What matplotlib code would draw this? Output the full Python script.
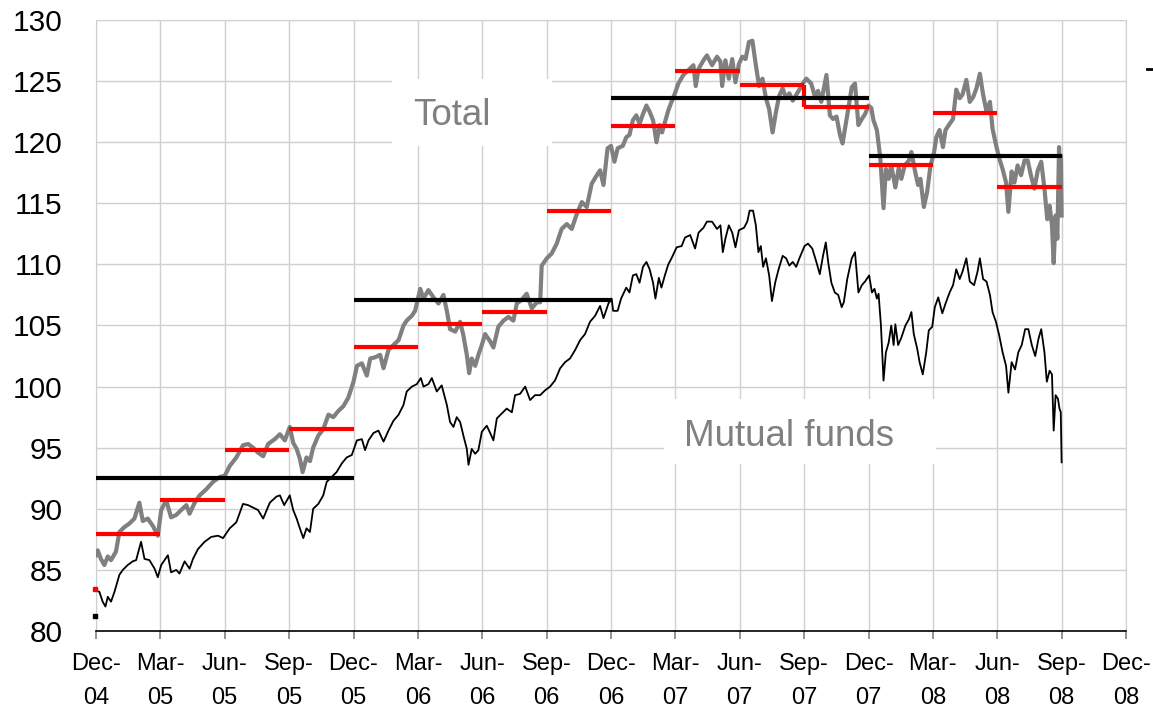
import matplotlib
matplotlib.use("Agg")
import matplotlib.pyplot as plt
from matplotlib.lines import Line2D
from matplotlib.patches import Rectangle

plt.rcParams['font.family'] = ['Liberation Sans', 'DejaVu Sans']

# x positions are months since Dec-04 (0 = Dec-04, 48 = Dec-08)
total_m = [
    0.0, 0.08, 0.23, 0.39, 0.55, 0.70, 0.93, 1.09, 1.32, 1.56, 1.79, 2.02, 2.18, 2.41, 2.65, 2.88,
    3.04, 3.27, 3.50, 3.74, 3.97, 4.21, 4.36, 4.60, 4.83, 5.14, 5.45, 5.76, 6.00, 6.23, 6.54, 6.85,
    7.09, 7.32, 7.55, 7.79, 8.02, 8.33, 8.57, 8.80, 9.03, 9.19, 9.35, 9.50, 9.63, 9.81, 9.97, 10.12,
    10.36, 10.59, 10.83, 11.06, 11.29, 11.53, 11.76,
    12.0, 12.16, 12.39, 12.62, 12.78, 13.01, 13.24, 13.40, 13.63, 13.86, 14.10, 14.33, 14.48, 14.72,
    14.87, 15.11, 15.26, 15.49, 15.73, 15.96, 16.19, 16.35, 16.50, 16.74, 16.97, 17.12, 17.28, 17.39,
    17.51, 17.67, 17.82, 17.98, 18.13, 18.37, 18.52, 18.75, 18.99, 19.22, 19.45, 19.61, 19.84, 20.07,
    20.31, 20.54, 20.70, 20.77, 21.01, 21.24, 21.47, 21.70, 21.94, 22.17, 22.40, 22.64, 22.87, 23.10,
    23.34, 23.49, 23.65,
    23.84, 24.0, 24.16, 24.31, 24.55, 24.71, 24.86, 25.02, 25.18, 25.33, 25.49, 25.65, 25.80, 25.96,
    26.12, 26.27, 26.38, 26.51, 26.67, 26.82, 26.98, 27.14, 27.37, 27.61, 27.84, 27.95, 28.08, 28.31,
    28.47, 28.71, 28.94, 29.10, 29.18, 29.33, 29.49, 29.65, 29.80, 29.96, 30.12, 30.27, 30.43, 30.59,
    30.75, 30.90, 31.06, 31.22, 31.37, 31.53, 31.69, 31.84, 32.0, 32.16, 32.31, 32.47, 32.71, 32.94,
    33.10, 33.33, 33.49, 33.65, 33.80, 34.04, 34.20, 34.35, 34.51, 34.67, 34.79, 34.98, 35.22, 35.37,
    35.53, 35.69,
    35.84, 36.0, 36.13, 36.23, 36.39, 36.55, 36.70, 36.81, 36.94, 37.06, 37.25, 37.41, 37.53, 37.69,
    37.88, 38.0, 38.16, 38.31, 38.42, 38.58, 38.73, 38.89, 39.05, 39.16, 39.31, 39.47, 39.59, 39.78,
    39.94, 40.09, 40.25, 40.38, 40.56, 40.72, 40.88, 41.03, 41.19, 41.34, 41.5, 41.66, 41.78, 41.94,
    42.09, 42.25, 42.41, 42.52, 42.67, 42.80, 42.95, 43.11, 43.27, 43.42, 43.58, 43.73, 43.89, 44.05,
    44.20, 44.33, 44.44, 44.55, 44.63, 44.72, 44.80, 44.88, 44.93, 44.97, 45.0,
]
total_v = [
    86.2, 86.6, 85.9, 85.4, 86.1, 85.8, 86.5, 88.1, 88.5, 88.8, 89.2, 90.5, 89.0, 89.2, 88.6, 87.8,
    89.9, 90.7, 89.3, 89.5, 89.9, 90.3, 89.6, 90.5, 91.1, 91.6, 92.2, 92.6, 92.7, 93.5, 94.2, 95.2,
    95.3, 95.0, 94.6, 94.3, 95.3, 95.7, 96.1, 95.6, 96.7, 95.4, 94.9, 94.1, 93.0, 94.2, 93.9, 95.0,
    96.0, 96.5, 97.7, 97.5, 98.0, 98.4, 99.1,
    100.4, 101.7, 101.9, 100.9, 102.3, 102.4, 102.6, 101.5, 103.0, 103.4, 103.8, 105.0, 105.4, 105.8,
    106.2, 108.0, 107.2, 107.9, 107.3, 106.8, 107.5, 106.2, 104.7, 104.5, 105.3, 104.2, 102.6, 101.1,
    102.3, 101.7, 102.6, 103.4, 104.3, 103.7, 103.2, 104.9, 105.4, 105.7, 105.4, 106.8, 107.1, 107.6,
    106.4, 106.9, 106.9, 109.9, 110.5, 110.9, 111.7, 112.9, 113.3, 112.9, 114.1, 115.1, 114.7, 116.6,
    117.3, 117.7, 116.5,
    119.5, 119.7, 118.4, 119.5, 119.7, 120.4, 120.6, 121.8, 122.2, 121.5, 122.3, 123.0, 122.5, 121.8,
    120.0, 121.4, 120.8, 121.6, 122.6, 123.3, 124.0, 124.8, 125.5, 125.9, 126.3, 124.6, 126.0, 126.7,
    127.1, 126.3, 127.0, 126.6, 124.6, 126.7, 125.2, 126.8, 124.9, 126.4, 127.0, 126.8, 128.2, 128.3,
    126.3, 124.6, 125.2, 123.6, 122.7, 120.8, 122.5, 123.8, 124.4, 123.6, 124.0, 123.4, 124.1, 124.8,
    125.2, 124.8, 123.8, 124.2, 123.3, 125.5, 122.2, 121.9, 122.1, 120.6, 119.9, 121.9, 124.5, 124.8,
    121.4, 121.9,
    122.3, 123.0, 122.8, 121.8, 121.0, 118.7, 114.6, 117.8, 117.0, 118.1, 116.3, 117.9, 117.0, 118.1,
    118.5, 119.2, 117.7, 116.5, 117.0, 114.7, 115.9, 118.1, 119.1, 120.4, 121.0, 119.6, 121.0, 121.5,
    121.9, 124.3, 123.6, 123.9, 125.1, 123.3, 123.7, 124.4, 125.6, 123.9, 122.5, 123.3, 121.1, 119.8,
    118.7, 117.8, 116.7, 114.3, 117.6, 116.7, 118.1, 117.3, 118.5, 118.5, 117.2, 116.2, 117.7, 118.4,
    116.2, 113.7, 114.8, 113.2, 110.1, 114.0, 112.1, 119.6, 116.0, 118.9, 114.0,
]

funds_m = [
    0.03, 0.16, 0.31, 0.44, 0.55, 0.70, 0.86, 1.09, 1.25, 1.48, 1.71, 1.87, 2.10, 2.26, 2.49, 2.73,
    2.88, 3.04, 3.35, 3.50, 3.74, 3.89, 4.13, 4.36, 4.52, 4.75, 5.06, 5.37, 5.69, 5.92, 6.23, 6.54,
    6.85, 7.09, 7.32, 7.55, 7.79, 8.10, 8.41, 8.57, 8.77, 9.03, 9.19, 9.35, 9.50, 9.66, 9.81, 9.97,
    10.12, 10.36, 10.59, 10.75, 10.98, 11.21, 11.45, 11.68, 11.92,
    12.16, 12.39, 12.54, 12.70, 12.93, 13.16, 13.40, 13.63, 13.86, 14.10, 14.33, 14.48, 14.72, 14.95,
    15.14, 15.26, 15.49, 15.65, 15.88, 16.11, 16.35, 16.50, 16.66, 16.81, 16.97, 17.12, 17.28, 17.36,
    17.51, 17.67, 17.82, 17.98, 18.21, 18.37, 18.52, 18.68, 18.91, 19.14, 19.38, 19.53, 19.76, 20.0,
    20.23, 20.46, 20.70, 20.93, 21.16, 21.39, 21.63, 21.86, 22.09, 22.33, 22.56, 22.79, 23.02, 23.26,
    23.49, 23.65, 23.88, 24.03,
    24.10, 24.31, 24.47, 24.71, 24.86, 25.02, 25.18, 25.33, 25.49, 25.65, 25.80, 25.96, 26.07, 26.23,
    26.35, 26.51, 26.67, 26.82, 27.06, 27.29, 27.45, 27.69, 27.92, 28.08, 28.31, 28.47, 28.71, 28.94,
    29.10, 29.21, 29.33, 29.49, 29.65, 29.80, 29.96, 30.20, 30.35, 30.46, 30.62, 30.75, 30.87, 30.98,
    31.09, 31.22, 31.37, 31.50, 31.65, 31.81, 32.0, 32.16, 32.31, 32.47, 32.63, 32.78, 33.02, 33.18,
    33.38, 33.57, 33.73, 33.88, 34.01, 34.12, 34.27, 34.43, 34.59, 34.75, 34.85, 35.01, 35.22, 35.37,
    35.53, 35.69, 35.84,
    36.03, 36.16, 36.28, 36.39, 36.47, 36.58, 36.70, 36.81, 36.94, 37.06, 37.17, 37.25, 37.38, 37.53,
    37.72, 37.88, 38.0, 38.11, 38.27, 38.38, 38.53, 38.69, 38.81, 38.97, 39.09, 39.25, 39.44, 39.59,
    39.78, 39.94, 40.09, 40.25, 40.38, 40.56, 40.72, 40.92, 41.08, 41.19, 41.34, 41.5, 41.66, 41.78,
    41.94, 42.09, 42.25, 42.41, 42.52, 42.67, 42.83, 42.98, 43.14, 43.30, 43.45, 43.61, 43.77, 43.92,
    44.05, 44.20, 44.31, 44.44, 44.55, 44.63, 44.72, 44.83, 44.90, 44.96, 45.0,
]
funds_v = [
    83.3, 83.2, 82.4, 82.0, 82.8, 82.4, 83.2, 84.6, 85.0, 85.4, 85.7, 85.8, 87.3, 85.9, 85.8, 85.1,
    84.4, 85.4, 86.2, 84.8, 85.0, 84.7, 85.7, 85.1, 85.9, 86.7, 87.3, 87.7, 87.8, 87.6, 88.4, 88.9,
    90.4, 90.3, 90.1, 89.9, 89.2, 90.5, 91.0, 91.1, 90.3, 91.1, 89.9, 89.2, 88.4, 87.6, 88.4, 88.1,
    90.0, 90.4, 91.1, 92.2, 92.6, 93.0, 93.7, 94.2, 94.4,
    95.6, 95.7, 94.8, 95.6, 96.2, 96.4, 95.5, 96.4, 97.2, 97.7, 98.5, 99.6, 100.0, 100.2,
    100.7, 100.0, 100.2, 100.7, 99.6, 100.1, 98.5, 97.1, 96.7, 97.5, 97.1, 96.0, 94.9, 93.6,
    94.9, 94.5, 94.8, 96.3, 96.8, 96.2, 95.6, 97.4, 97.8, 98.2, 97.9, 99.3, 99.4, 100.0,
    98.9, 99.3, 99.3, 99.7, 100.0, 100.5, 101.5, 102.0, 102.3, 103.0, 103.8, 104.3, 105.3, 105.8,
    106.6, 105.6, 106.8, 107.2,
    106.2, 106.2, 107.2, 108.1, 107.7, 109.1, 109.2, 108.5, 109.8, 110.2, 109.6, 108.5, 107.2, 108.9,
    108.1, 109.1, 110.0, 110.5, 111.4, 111.5, 112.2, 112.4, 111.3, 112.6, 113.0, 113.5, 113.5, 112.9,
    113.2, 111.0, 112.1, 113.2, 112.6, 111.4, 112.8, 113.0, 113.5, 114.4, 114.4, 113.2, 111.0, 111.5,
    109.8, 110.5, 109.1, 107.0, 108.5, 109.6, 110.7, 110.5, 109.9, 110.2, 109.8, 110.5, 111.5, 111.7,
    111.3, 110.2, 109.2, 110.7, 111.8, 110.2, 108.5, 107.7, 107.5, 106.5, 106.9, 108.8, 110.5, 111.0,
    107.7, 108.3, 108.6,
    109.1, 107.7, 108.0, 107.2, 107.6, 105.0, 100.5, 102.8, 103.6, 105.0, 103.4, 105.1, 103.4, 104.0,
    105.0, 105.5, 106.1, 104.3, 103.1, 102.0, 101.0, 102.8, 104.6, 104.9, 106.5, 107.3, 106.0, 106.8,
    107.7, 108.3, 109.6, 108.8, 109.4, 110.5, 108.6, 108.3, 109.4, 110.5, 108.8, 108.6, 107.5, 106.1,
    105.3, 104.2, 102.8, 101.7, 99.5, 102.0, 101.4, 102.8, 103.4, 104.7, 104.7, 103.4, 102.5, 103.9,
    104.7, 102.8, 100.4, 101.3, 101.0, 96.4, 99.3, 99.0, 98.2, 97.9, 93.8,
]

# quarterly averages of Total (red) and yearly averages (black)
quarter_start = [0, 3, 6, 9, 12, 15, 18, 21, 24, 27, 30, 33, 36, 39, 42]
quarter_end = [3, 6, 9, 12, 15, 18, 21, 24, 27, 30, 33, 36, 39, 42, 45]
quarter_avg = [87.9, 90.7, 94.8, 96.5, 103.2, 105.1, 106.1, 114.4, 121.3, 125.8,
               124.7, 122.9, 118.1, 122.4, 116.3]
year_start = [0, 12, 24, 36]
year_end = [12, 24, 36, 45]
year_avg = [92.5, 107.1, 123.6, 118.85]
# stray start points at Dec-04
start_red = 83.45
start_black = 81.25

tick_pos = list(range(0, 49, 3))
tick_labels = ['Dec-\n04', 'Mar-\n05', 'Jun-\n05', 'Sep-\n05', 'Dec-\n05', 'Mar-\n06', 'Jun-\n06',
               'Sep-\n06', 'Dec-\n06', 'Mar-\n07', 'Jun-\n07', 'Sep-\n07', 'Dec-\n07', 'Mar-\n08',
               'Jun-\n08', 'Sep-\n08', 'Dec-\n08']

fig = plt.figure(figsize=(11.53, 7.09), dpi=100)
ax = fig.add_axes([96 / 1153, 1 - 631 / 709, 1030 / 1153, 611 / 709])

grid_c = '#d0d0d0'
ax.set_xlim(0, 48)
ax.set_ylim(80, 130)
ax.set_xticks(tick_pos)
ax.set_xticklabels(tick_labels, fontsize=17, linespacing=1.7)
ax.set_yticks(range(80, 131, 5))
ax.tick_params(axis='y', length=0, pad=24, labelsize=21.5)
ax.tick_params(axis='x', length=6, width=1.2, color='#808080', pad=10)
ax.grid(True, color=grid_c, lw=1)
ax.set_axisbelow(True)
for s in ['top', 'right', 'left']:
    ax.spines[s].set_color(grid_c)
ax.spines['bottom'].set_color('black')
ax.spines['bottom'].set_linewidth(1.2)
ax.spines['bottom'].set_zorder(5)

# white boxes behind the series labels
ax.add_patch(Rectangle((13.8, 119.7), 7.45, 5.5, facecolor='white', edgecolor='none', zorder=1.5))
ax.add_patch(Rectangle((26.47, 93.67), 12.67, 5.31, facecolor='white', edgecolor='none', zorder=1.5))
ax.text(16.6, 122.2, 'Total', fontsize=26.5, color='#808080', ha='center', va='center', zorder=6)
ax.text(32.3, 95.95, 'Mutual funds', fontsize=26.5, color='#808080', ha='center', va='center', zorder=6)

ax.plot(total_m, total_v, color='#808080', lw=3.0, zorder=3, solid_joinstyle='round')
ax.plot(funds_m, funds_v, color='black', lw=1.3, zorder=3)

ax.hlines(quarter_avg, quarter_start, quarter_end, colors='#ff0000', lw=3, zorder=4)
# red step at Sep-07 between two quarters
ax.vlines(quarter_start[11], quarter_avg[11], quarter_avg[10], colors='#ff0000', lw=3, zorder=4)
ax.hlines(year_avg, year_start, year_end, colors='black', lw=3, zorder=4)

ax.plot([-0.05], [start_red], marker='s', ms=3.5, color='#ff0000', ls='none', clip_on=False, zorder=5)
ax.plot([-0.05], [start_black], marker='s', ms=3.5, color='black', ls='none', clip_on=False, zorder=5)

# small stray legend mark at top right
fig.add_artist(Line2D([1147 / 1153, 1153 / 1153], [1 - 69 / 709, 1 - 69 / 709], color='black', lw=2))

fig.savefig('out.png', dpi=100)
